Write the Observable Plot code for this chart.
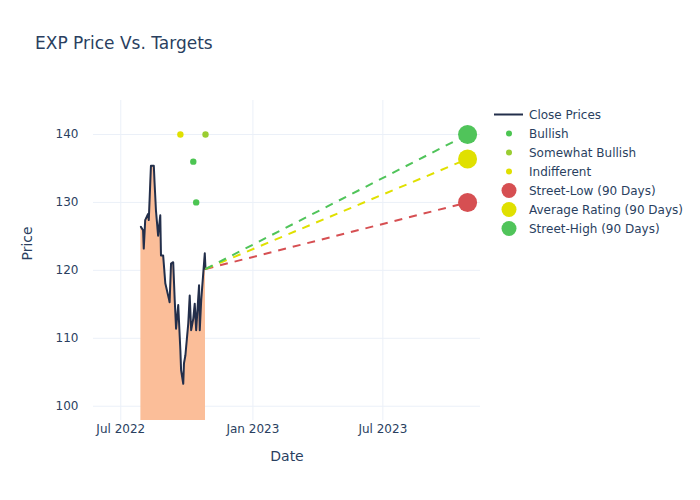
<!DOCTYPE html>
<html><head><meta charset="utf-8">
<script src="https://cdn.jsdelivr.net/npm/d3@7"></script>
<script src="https://cdn.jsdelivr.net/npm/@observablehq/plot@0.6"></script>
<style>
body{margin:0;background:#fff;font-family:"DejaVu Sans",sans-serif;}
#wrap{position:relative;width:700px;height:500px;}
#title{position:absolute;left:35px;top:33px;font-size:17px;color:#2a3f5f;white-space:nowrap;}
#legend{position:absolute;left:0;top:0;}
</style></head><body>
<div id="wrap"><div id="chart"></div><div id="title">EXP Price Vs. Targets</div><svg id="legend" width="700" height="500"></svg></div>
<script>
// Close prices
const closeDates = ["2022-07-29","2022-08-01","2022-08-02","2022-08-04","2022-08-08","2022-08-09","2022-08-12","2022-08-16","2022-08-17","2022-08-19","2022-08-22","2022-08-25","2022-08-26","2022-08-29","2022-09-01","2022-09-06","2022-09-07","2022-09-09","2022-09-12","2022-09-14","2022-09-16","2022-09-19","2022-09-22","2022-09-23","2022-09-26","2022-09-27","2022-09-29","2022-10-03","2022-10-05","2022-10-07","2022-10-10","2022-10-12","2022-10-14","2022-10-18","2022-10-19","2022-10-21","2022-10-26","2022-10-27"];
const closePrices = [126.4,125.9,123.2,127.4,128.3,127.4,135.4,135.4,133.0,128.8,125.1,128.1,122.2,122.2,118.1,115.8,115.3,121.0,121.2,115.9,111.4,114.9,108.2,105.3,103.3,106.3,107.5,112.2,116.3,111.2,112.9,115.1,111.2,117.8,111.2,115.6,122.5,120.2];

// Analyst ratings
const ratingDates = ["2022-09-22","2022-10-10","2022-10-14","2022-10-27"];
const ratingValues = [140,136,130,140];
const ratingTypes = ["Indifferent","Bullish","Bullish","Somewhat Bullish"];

// Targets (90 days)
const targetNames = ["Street-Low (90 Days)","Average Rating (90 Days)","Street-High (90 Days)"];
const targetValues = [130,136.4,140];
const targetStartDate = "2022-10-27";
const targetStartValue = 120.2;
const targetDate = "2023-10-27";

// Axis ticks
const xTickDates = ["2022-07-01","2023-01-01","2023-07-01"];
const yTickValues = [100,110,120,130,140];

const colors = {
  "Close Prices":"#232f4b",
  "Bullish":"#4cc552",
  "Somewhat Bullish":"#9acd32",
  "Indifferent":"#e0e000",
  "Street-Low (90 Days)":"#d64f52",
  "Average Rating (90 Days)":"#e0e000",
  "Street-High (90 Days)":"#50c45a"
};

const parse = d3.utcParse("%Y-%m-%d");
const prices = closeDates.map((d,i)=>({date:parse(d), price:closePrices[i]}));
const ratings = ratingDates.map((d,i)=>({date:parse(d), value:ratingValues[i], type:ratingTypes[i]}));
const targets = targetNames.map((n,i)=>({name:n, x1:parse(targetStartDate), y1:targetStartValue, x2:parse(targetDate), y2:targetValues[i]}));
const xTicks = xTickDates.map(parse);

const grid = "#ebf0f8";
const chart = Plot.plot({
  width:700, height:500,
  marginLeft:93, marginRight:220, marginTop:100, marginBottom:80,
  style:{fontFamily:"DejaVu Sans", fontSize:"12px", color:"#2a3f5f", background:"transparent"},
  x:{type:"utc", domain:[parse("2022-05-24"), parse("2023-11-14")]},
  y:{domain:[97.9,145]},
  marks:[
    Plot.gridX(xTicks, {stroke:grid, strokeOpacity:1}),
    Plot.gridY(yTickValues, {stroke:grid, strokeOpacity:1}),
    Plot.areaY(prices, {x:"date", y1:0, y2:"price", fill:"#fbbe99", fillOpacity:1, clip:true}),
    Plot.line(prices, {x:"date", y:"price", stroke:colors["Close Prices"], strokeWidth:2}),
    Plot.link(targets, {x1:"x1", y1:"y1", x2:"x2", y2:"y2", stroke:d=>colors[d.name], strokeWidth:2, strokeDasharray:"8,7"}),
    Plot.dot(ratings, {x:"date", y:"value", fill:d=>colors[d.type], r:3.2}),
    Plot.dot(targets, {x:"x2", y:"y2", fill:d=>colors[d.name], r:9.5}),
    Plot.axisX({ticks:xTicks, tickFormat:d3.utcFormat("%b %Y"), tickSize:0, tickPadding:4, label:null}),
    Plot.axisY({ticks:yTickValues, tickSize:0, tickPadding:15, label:null}),
    Plot.text(["Date"], {frameAnchor:"bottom", dy:36, lineAnchor:"middle", fontSize:14, fill:"#2a3f5f"}),
    Plot.text(["Price"], {frameAnchor:"left", dx:-66, rotate:-90, fontSize:14, fill:"#2a3f5f"})
  ]
});
document.getElementById("chart").appendChild(chart);

// Legend
const legendItems = [
  {name:"Close Prices", kind:"line"},
  {name:"Bullish", kind:"small"},
  {name:"Somewhat Bullish", kind:"small"},
  {name:"Indifferent", kind:"small"},
  {name:"Street-Low (90 Days)", kind:"big"},
  {name:"Average Rating (90 Days)", kind:"big"},
  {name:"Street-High (90 Days)", kind:"big"}
];
const lg = d3.select("#legend");
legendItems.forEach((it,i)=>{
  const y = 114.5 + i*19;
  if(it.kind==="line") lg.append("line").attr("x1",494).attr("x2",523).attr("y1",y).attr("y2",y).attr("stroke",colors[it.name]).attr("stroke-width",2);
  else lg.append("circle").attr("cx",509).attr("cy",y).attr("r",it.kind==="small"?3:7.5).attr("fill",colors[it.name]);
  lg.append("text").attr("x",529).attr("y",y).attr("dy","0.35em").attr("font-size",12).attr("font-family","DejaVu Sans").attr("fill","#2a3f5f").text(it.name);
});
</script>
</body></html>
